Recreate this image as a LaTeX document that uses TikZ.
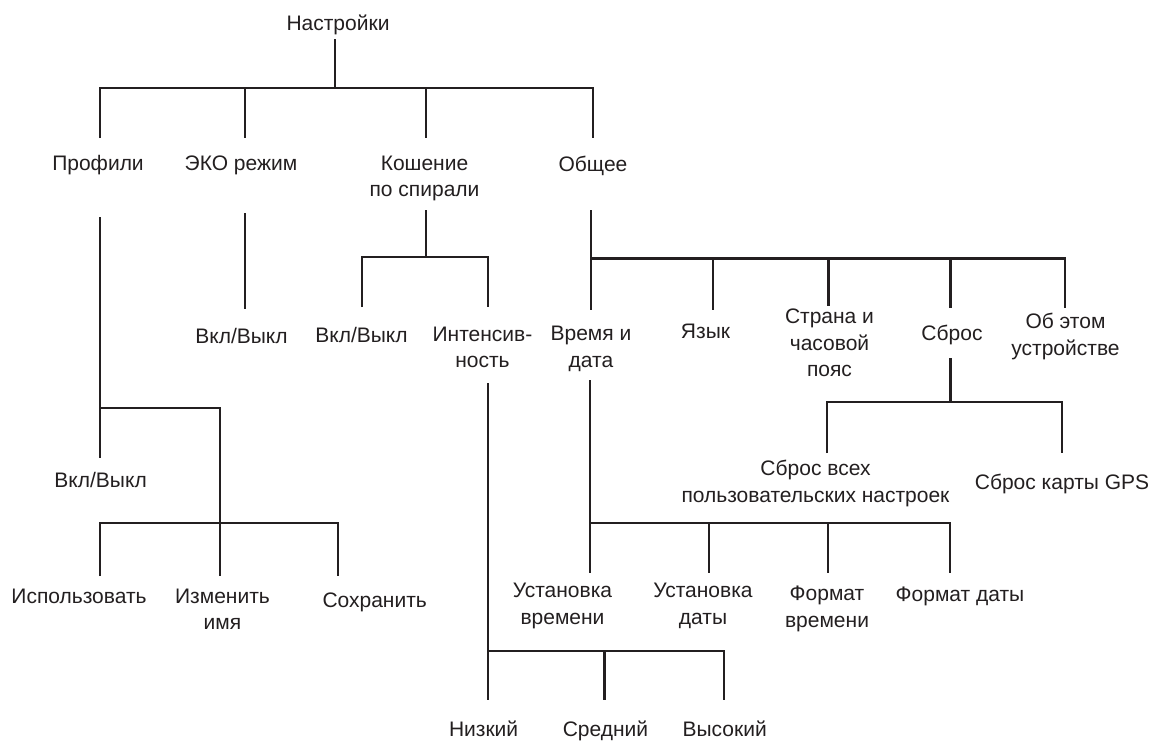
\documentclass[tikz,border=0pt]{standalone}
\usepackage{fontspec}
\setmainfont{Liberation Sans}
\definecolor{ink}{HTML}{231F20}
\begin{document}
\begin{tikzpicture}[x=1pt,y=-1pt,
  lbl/.style={anchor=north, inner sep=0pt, align=center, text=ink,
              font=\fontsize{21}{26.5}\selectfont},
  conn/.style={draw=ink, line width=2.8pt, line join=miter}]
\useasboundingbox[fill=white] (0,0) rectangle (1153,740);

% ---------- text nodes ----------
\node[lbl] (root)    at (338,15)     {Настройки};
\node[lbl] (prof)    at (98,155.5)   {Профили};
\node[lbl] (eco)     at (241,155.5)  {ЭКО режим};
\node[lbl] (kos)     at (424.5,155.5){Кошение\\по спирали};
\node[lbl] (gen)     at (593,155.5)  {Общее};
\node[lbl] (profon)  at (100.6,472.5){Вкл/Выкл};
\node[lbl] (use)     at (79,588.5)   {Использовать};
\node[lbl] (ren)     at (222.5,588.5){Изменить\\имя};
\node[lbl] (save)    at (374.7,592.5){Сохранить};
\node[lbl] (ecoon)   at (241.5,328.5){Вкл/Выкл};
\node[lbl] (kson)    at (361.5,327)  {Вкл/Выкл};
\node[lbl] (int)     at (482.5,326.5){Интенсив-\\ность};
\node[lbl] (low)     at (483.6,720.5){Низкий};
\node[lbl] (mid)     at (605.5,720.5){Средний};
\node[lbl] (high)    at (724.7,720.5){Высокий};
\node[lbl] (time)    at (591,326)    {Время и\\дата};
\node[lbl] (lang)    at (705.5,324)  {Язык};
\node[lbl] (cty)     at (829.5,309)  {Страна и\\часовой\\пояс};
\node[lbl] (rst)     at (952,325)    {Сброс};
\node[lbl] (abt)     at (1065.5,313) {Об этом\\устройстве};
\node[lbl] (rall)    at (815.5,460)  {Сброс всех\\пользовательских настроек};
\node[lbl] (rgps)    at (1062,474)   {Сброс карты GPS};
\node[lbl] (settime) at (562.5,583)  {Установка\\времени};
\node[lbl] (setdate) at (703,583)    {Установка\\даты};
\node[lbl] (tfmt)    at (827,586)    {Формат\\времени};
\node[lbl] (dfmt)    at (960,586.5)  {Формат даты};

% ---------- connector end points ----------
\coordinate (root-o) at (335,39);   \coordinate (j0) at (335,88);
\coordinate (prof-i) at (100,138);  \coordinate (eco-i) at (245,138);
\coordinate (kos-i) at (426,138);   \coordinate (gen-i) at (593,138);

\coordinate (prof-o) at (100,217);  \coordinate (jprof) at (100,408);
\coordinate (profon-i) at (100,458); \coordinate (jsub) at (220,523);
\coordinate (use-i) at (100,576);   \coordinate (ren-i) at (220,576);
\coordinate (save-i) at (338,576);

\coordinate (eco-o) at (245,213);   \coordinate (ecoon-i) at (245,309);

\coordinate (kos-o) at (426,210);   \coordinate (jkos) at (426,257);
\coordinate (kson-i) at (362,307);  \coordinate (int-i) at (488,307);

\coordinate (int-o) at (488,383);   \coordinate (jint) at (488,651);
\coordinate (low-i) at (488,700);   \coordinate (mid-i) at (604.5,700);
\coordinate (high-i) at (724,700);

\coordinate (gen-o) at (591,210);   \coordinate (jgen) at (591,258.5);
\coordinate (time-i) at (591,310);  \coordinate (lang-i) at (713,310);
\coordinate (cty-i) at (828.5,306); \coordinate (rst-i) at (950.5,308);
\coordinate (abt-i) at (1065,308);

\coordinate (rst-o) at (950.5,358); \coordinate (jrst) at (950.5,402);
\coordinate (rall-i) at (827,453);  \coordinate (rgps-i) at (1062,453);

\coordinate (time-o) at (590,380);  \coordinate (jtime) at (590,523);
\coordinate (settime-i) at (590,573); \coordinate (setdate-i) at (709,573);
\coordinate (tfmt-i) at (828,573);  \coordinate (dfmt-i) at (950,573);

% ---------- connectors ----------
% Настройки
\draw[conn] (root-o) -- (j0);
\draw[conn] (prof-i) |- (j0) -| (gen-i);
\draw[conn] (j0 -| eco-i) -- (eco-i);
\draw[conn] (j0 -| kos-i) -- (kos-i);
% Профили
\draw[conn] (prof-o) -- (profon-i);
\draw[conn] (jprof) -| (ren-i);
\draw[conn] (use-i) |- (jsub) -| (save-i);
% ЭКО режим
\draw[conn] (eco-o) -- (ecoon-i);
% Кошение по спирали
\draw[conn] (kos-o) -- (jkos);
\draw[conn] (kson-i) |- (jkos) -| (int-i);
% Интенсивность
\draw[conn] (int-o) -- (low-i);
\draw[conn] (jint) -| (high-i);
\draw[conn] (jint -| mid-i) -- (mid-i);
% Общее
\draw[conn] (gen-o) -- (time-i);
\draw[conn] (jgen) -| (abt-i);
\draw[conn] (jgen -| lang-i) -- (lang-i);
\draw[conn] (jgen -| cty-i) -- (cty-i);
\draw[conn] (jgen -| rst-i) -- (rst-i);
% Сброс
\draw[conn] (rst-o) -- (jrst);
\draw[conn] (rall-i) |- (jrst) -| (rgps-i);
% Время и дата
\draw[conn] (time-o) -- (settime-i);
\draw[conn] (jtime) -| (dfmt-i);
\draw[conn] (jtime -| setdate-i) -- (setdate-i);
\draw[conn] (jtime -| tfmt-i) -- (tfmt-i);
\end{tikzpicture}
\end{document}
